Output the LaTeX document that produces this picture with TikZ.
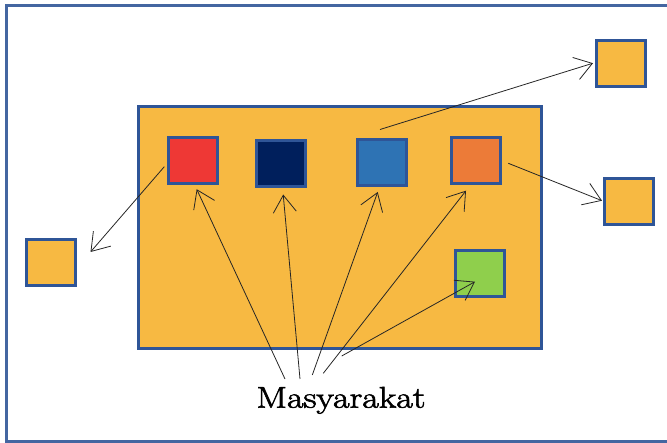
\documentclass[tikz,border=0pt]{standalone}
\usepackage{fontspec}
\usetikzlibrary{arrows.meta,calc}
\newfontfamily\labelfont[FakeBold=2]{Latin Modern Roman}
\definecolor{boxgold}{HTML}{F7B942}
\definecolor{edgeblue}{HTML}{2F5597}
\definecolor{cred}{HTML}{EE3835}
\definecolor{cnavy}{HTML}{001F5C}
\definecolor{cblue}{HTML}{2E73B4}
\definecolor{corange}{HTML}{EC7B38}
\definecolor{cgreen}{HTML}{8FCF4C}
\begin{document}
\begin{tikzpicture}[x=1pt,y=-1pt,
  sq/.style={draw=edgeblue,line width=3pt,minimum width=49pt,minimum height=46pt,inner sep=0pt,fill=#1},
  link/.style={line width=0.8pt,draw=black!85,-{Straight Barb[length=17pt,width=23pt,line width=0.8pt]}}]
  \useasboundingbox (0,0) rectangle (667,443);
  % frame around the whole figure (open on the right)
  \draw[edgeblue!90,line width=3pt] (668,5.5) -- (6.5,5.5) -- (6.5,441.5) -- (668,441.5);
  % inner community block
  \node[draw=edgeblue,line width=3pt,fill=boxgold,minimum width=403pt,minimum height=242pt,inner sep=0pt] (block) at (340.3,227.5) {};
  \node[sq=cred]    (red)    at (193.3,160.7) {};
  \node[sq=cnavy]   (navy)   at (281.2,164) {};
  \node[sq=cblue]   (blue)   at (382,163) {};
  \node[sq=corange] (orange) at (476.3,160.7) {};
  \node[sq=cgreen]  (green)  at (480.2,273.7) {};
  % outside squares
  \node[sq=boxgold] (left)  at (50.5,262.5) {};
  \node[sq=boxgold] (tr)    at (620.5,63.2) {};
  \node[sq=boxgold] (rm)    at (628.5,201.2) {};
  % label
  \node[anchor=base,inner sep=0pt,xscale=1.2,transform shape] (mas) at (341,407.7) {\labelfont\fontsize{30}{31}\selectfont Masyarakat};
  \coordinate (m1) at (285,379);
  \coordinate (m2) at (300,379);
  \coordinate (m3) at (312.3,375);
  \coordinate (m4) at (323.3,373.3);
  \coordinate (m5) at (341.7,356);
  % arrows from the label
  \draw[link] (m1) -- ($(red.south)+(3.4,4)$);
  \draw[link] (m2) -- ($(navy.south)+(2,6)$);
  \draw[link] (m3) -- ($(blue.south)+(-4.3,4.5)$);
  \draw[link] (m4) -- ($(orange.south)+(-10.3,5.5)$);
  \draw[link] (m5) -- ($(green.center)+(-5.2,8)$);
  % outgoing arrows
  \draw[link] ($(red.west)+(-3,6)$) -- ($(left.east)+(14,-10.5)$);
  \draw[link] ($(blue.north)+(-2,-9)$) -- ($(tr.west)+(-1.5,0)$);
  \draw[link] ($(orange.east)+(6,2.6)$) -- ($(rm.west)+(-0.5,-0.5)$);
\end{tikzpicture}
\end{document}
